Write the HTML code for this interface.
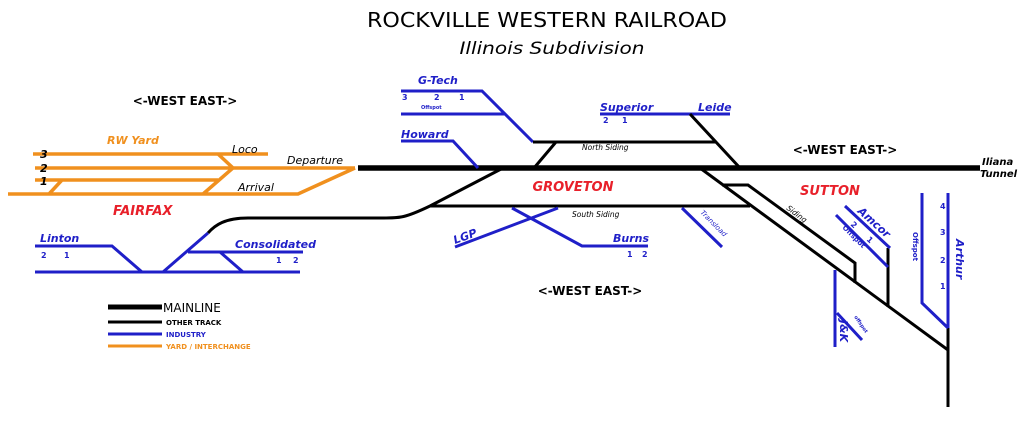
<!DOCTYPE html>
<html><head><meta charset="utf-8"><style>
html,body{margin:0;padding:0;background:#fff}
svg{display:block;font-family:"DejaVu Sans","Liberation Sans",sans-serif}
.b{stroke:#1f1fc8;fill:none;stroke-width:3}
.k{stroke:#000;fill:none;stroke-width:3}
.o{stroke:#f0901e;fill:none;stroke-width:3.5}
.bt{fill:#1f1fc8;font-style:italic;font-weight:bold;font-size:11px}
.bn{fill:#1f1fc8;font-weight:bold;font-size:8px}
.kt{fill:#000;font-style:italic;font-size:11px}
.rt{fill:#e8202a;font-style:italic;font-weight:bold;font-size:13px}
</style></head><body>
<svg width="1024" height="421" viewBox="0 0 1024 421">
<text x="547" y="27" text-anchor="middle" font-size="20" fill="#000" textLength="360" lengthAdjust="spacingAndGlyphs">ROCKVILLE WESTERN RAILROAD</text>
<text x="552" y="54" text-anchor="middle" font-size="17" font-style="italic" fill="#000" textLength="185" lengthAdjust="spacingAndGlyphs">Illinois Subdivision</text>
<text x="185" y="105" text-anchor="middle" font-size="12" font-weight="bold">&lt;-WEST EAST-&gt;</text>
<text x="845" y="154" text-anchor="middle" font-size="12" font-weight="bold">&lt;-WEST EAST-&gt;</text>
<text x="590" y="295" text-anchor="middle" font-size="12" font-weight="bold">&lt;-WEST EAST-&gt;</text>

<!-- yard -->
<path class="o" d="M33 154H268M35 168H355M35 180H218M8 194H298L355 168M218 154L233 168L203 194M62 180L49 194"/>
<text x="107" y="144" fill="#f0901e" font-style="italic" font-weight="bold" font-size="11">RW Yard</text>
<text x="40" y="158" class="kt" font-weight="bold">3</text>
<text x="40" y="172" class="kt" font-weight="bold">2</text>
<text x="40" y="185" class="kt" font-weight="bold">1</text>
<text x="232" y="153" class="kt">Loco</text>
<text x="287" y="164" class="kt">Departure</text>
<text x="238" y="191" class="kt">Arrival</text>
<text x="113" y="215" class="rt">FAIRFAX</text>

<!-- mainline -->
<path d="M358 168H980" stroke="#000" stroke-width="5.5" fill="none"/>
<path class="k" d="M503 168L430 206H750M430 206C405 218 400 218 383 218H248C225 218 215 225 208 233"/>
<path class="b" d="M208 233L163 272M35 246H112L142 272M35 272H300M188 252H303M220 252L243 272"/>
<text x="40" y="242" class="bt">Linton</text>
<text x="41" y="258" class="bn">2</text><text x="64" y="258" class="bn">1</text>
<text x="235" y="248" class="bt">Consolidated</text>
<text x="276" y="263" class="bn">1</text><text x="293" y="263" class="bn">2</text>

<!-- Groveton -->
<path class="b" d="M401 91H482L533 142M401 114H505M401 141H453L478 168M600 114H730M455 247L558 208M512 208L582 246H648M682 208L722 247"/>
<path class="k" d="M533 142H716M556 142L534 168M690 114L740 168"/>
<text x="418" y="84" class="bt">G-Tech</text>
<text x="402" y="100" class="bn">3</text><text x="434" y="100" class="bn">2</text><text x="459" y="100" class="bn">1</text>
<text x="421" y="109" fill="#1f1fc8" font-size="5" font-weight="bold">Offspot</text>
<text x="401" y="138" class="bt">Howard</text>
<text x="600" y="111" class="bt">Superior</text>
<text x="603" y="123" class="bn">2</text><text x="622" y="123" class="bn">1</text>
<text x="698" y="111" class="bt">Leide</text>
<text x="582" y="150" font-size="7.5" font-style="italic">North Siding</text>
<text x="573" y="191" text-anchor="middle" class="rt">GROVETON</text>
<text x="572" y="217" font-size="7.5" font-style="italic">South Siding</text>
<text x="455" y="244" class="bt" transform="rotate(-20 455 244)">LGP</text>
<text x="613" y="242" class="bt">Burns</text>
<text x="627" y="257" class="bn">1</text><text x="642" y="257" class="bn">2</text>
<text x="700" y="213" fill="#1f1fc8" font-size="7" font-style="italic" transform="rotate(45 700 213)">Transload</text>

<!-- Sutton -->
<path class="k" d="M700 168L948 350M948 328V407M722 185H748L855 263V283M888 248V307"/>
<path class="b" d="M845 206L890 248M836 215L888 267M835 270V347M837 313L862 340M948 193V328M922 193V303L948 328"/>
<text x="982" y="165" font-size="10" font-style="italic" font-weight="bold">Iliana</text>
<text x="980" y="177" font-size="10" font-style="italic" font-weight="bold">Tunnel</text>
<text x="800" y="195" class="rt">SUTTON</text>
<text x="786" y="209" font-size="7.5" font-style="italic" transform="rotate(37 786 209)">Siding</text>
<text x="857" y="212" class="bt" transform="rotate(42 857 212)">Amcor</text>
<text x="850" y="225" class="bn" transform="rotate(42 850 225)">2</text>
<text x="866" y="240" class="bn" transform="rotate(42 866 240)">1</text>
<text x="842" y="228" fill="#1f1fc8" font-size="7" font-weight="bold" transform="rotate(45 842 228)">Offspot</text>
<text x="840" y="320" class="bt" transform="rotate(90 840 320)">J&amp;K</text>
<text x="854" y="317" fill="#1f1fc8" font-size="5" font-weight="bold" transform="rotate(55 854 317)">offspot</text>
<text x="913" y="232" fill="#1f1fc8" font-size="7" font-weight="bold" transform="rotate(90 913 232)">Offspot</text>
<text x="956" y="239" class="bt" transform="rotate(90 956 239)">Arthur</text>
<text x="940" y="209" class="bn">4</text><text x="940" y="235" class="bn">3</text>
<text x="940" y="263" class="bn">2</text><text x="940" y="289" class="bn">1</text>

<!-- legend -->
<path d="M108 307H162" stroke="#000" stroke-width="5"/>
<path d="M108 322H162" stroke="#000" stroke-width="3"/>
<path d="M108 334H162" stroke="#1f1fc8" stroke-width="3"/>
<path d="M108 346H162" stroke="#f0901e" stroke-width="3"/>
<text x="163" y="312" font-size="12">MAINLINE</text>
<text x="166" y="325" font-size="7" font-weight="bold">OTHER TRACK</text>
<text x="166" y="337" font-size="7" font-weight="bold" fill="#1f1fc8">INDUSTRY</text>
<text x="166" y="349" font-size="7" font-weight="bold" fill="#f0901e">YARD / INTERCHANGE</text>
</svg>
</body></html>
